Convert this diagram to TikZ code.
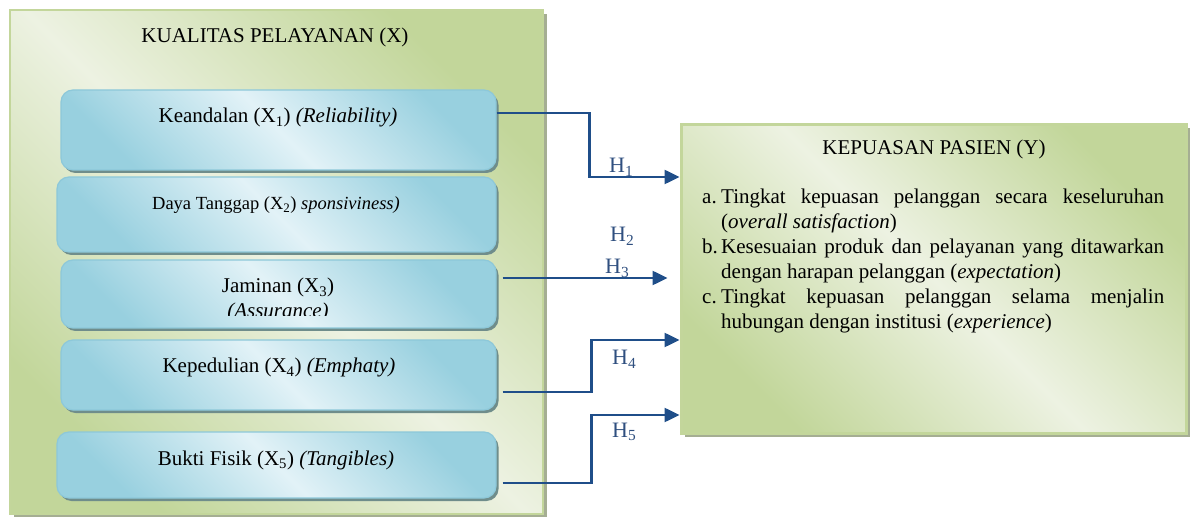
\documentclass[tikz,border=0pt]{standalone}
\usepackage{fontspec}
\setmainfont{Liberation Serif}[ItalicFont={Liberation Serif Italic}, BoldFont={Liberation Serif Bold}]
\usetikzlibrary{arrows.meta,shadows}
\definecolor{grn}{HTML}{C2D69A}
\definecolor{grnl}{HTML}{EDF2E2}
\definecolor{grnline}{HTML}{C3D69B}
\definecolor{grnshadow}{HTML}{A5AE93}
\definecolor{blu}{HTML}{98D0DF}
\definecolor{blul}{HTML}{E2F2F7}
\definecolor{bluline}{HTML}{8DC8D9}
\definecolor{blushadow}{HTML}{6F8D8B}
\definecolor{arrc}{HTML}{1F4E89}
\definecolor{hlab}{HTML}{2F4F7F}
\begin{document}
\begin{tikzpicture}[x=1pt,y=-1pt,
  greenbox/.style={draw=grnline, line width=2pt, top color=grn, bottom color=grn, middle color=grnl, shading angle=-45,
    drop shadow={shadow xshift=3.5pt, shadow yshift=-3.5pt, fill=grnshadow, opacity=1}, inner sep=0pt},
  bluebox/.style={draw=bluline, line width=1.2pt, rounded corners=12pt, top color=blu, bottom color=blu, middle color=blul, shading angle=-45,
    drop shadow={shadow xshift=2.5pt, shadow yshift=-3pt, fill=blushadow, opacity=1}, inner sep=0pt},
  txt/.style={font=\fontsize{21}{25}\selectfont, inner sep=0pt, anchor=base},
  hl/.style={font=\fontsize{22}{26}\selectfont, text=hlab, inner sep=0pt, anchor=base west},
  arr/.style={draw=arrc, line width=2.5pt, -{Triangle[length=15pt,width=14pt]}}
]
\useasboundingbox (0,0) rectangle (1194,518);
% left container
\node[greenbox, minimum width=533pt, minimum height=503pt] (X) at (276.5,262) {};
\node[txt] (Xt) at (275,43) {KUALITAS PELAYANAN (X)};
% inner boxes
\node[bluebox, minimum width=435pt, minimum height=80pt] (b1) at (278.5,130) {};
\node[bluebox, minimum width=439pt, minimum height=75pt] (b2) at (276.5,214.5) {};
\node[bluebox, minimum width=435pt, minimum height=68pt] (b3) at (278.5,294) {};
\node[bluebox, minimum width=435pt, minimum height=70pt] (b4) at (278.5,375) {};
\node[bluebox, minimum width=439pt, minimum height=66pt] (b5) at (276.5,465) {};
\node[txt] (b1t) at (278,123) {Keandalan (X\textsubscript{1}) \textit{(Reliability)}};
\node[txt, font=\fontsize{18.5}{22}\selectfont] (b2t) at (276,210) {Daya Tanggap (X\textsubscript{2}) \textit{sponsiviness)}};
\node[txt] (b3t) at (278,293) {Jaminan (X\textsubscript{3})};
\begin{scope}
\clip (61,262) rectangle (496,315.5);
\node[txt] (b3u) at (278,318) {\textit{(Assurance)}};
\end{scope}
\node[txt] (b4t) at (279,373) {Kepedulian (X\textsubscript{4}) \textit{(Emphaty)}};
\node[txt] (b5t) at (276,465) {Bukti Fisik (X\textsubscript{5}) \textit{(Tangibles)}};
% right box
\node[greenbox, line width=3pt, minimum width=505pt, minimum height=308pt,
  drop shadow={shadow xshift=4pt, shadow yshift=-4pt, fill=grnshadow, opacity=1}] (Y) at (933.5,279) {};
\node[txt] (Yt) at (934,155) {KEPUASAN PASIEN (Y)};
\node[inner sep=0pt, anchor=north west, text width=462pt, align=justify,
  font=\fontsize{21}{25}\selectfont] (Yl) at (702,188.5) {%
  \hbadness=10000\parindent=0pt
  \hangindent=19pt\hangafter=1\makebox[19pt][l]{a.}Tingkat kepuasan pelanggan secara keseluruhan\linebreak
  (\textit{overall satisfaction})\par
  \hangindent=19pt\hangafter=1\makebox[19pt][l]{b.}Kesesuaian produk dan pelayanan yang ditawarkan\linebreak
  dengan harapan pelanggan (\textit{expectation})\par
  \hangindent=19pt\hangafter=1\makebox[19pt][l]{c.}Tingkat kepuasan pelanggan selama menjalin\linebreak
  hubungan dengan institusi (\textit{experience})\par};
% connectors
\draw[arr] ([yshift=17pt]b1.east) -- ++(93,0) |- ([yshift=102pt]Y.west);
\draw[arr] ([xshift=6pt,yshift=16pt]b3.east) -- ([xshift=-12pt,yshift=1pt]Y.west);
\draw[arr] ([xshift=6pt,yshift=-17pt]b4.east) -- ++(89,0) |- ([yshift=-61pt]Y.west);
\draw[arr] ([xshift=6pt,yshift=-18pt]b5.east) -- ++(89,0) |- ([yshift=-136pt]Y.west);
% labels
\node[hl] (h1) at (609,173) {H\textsubscript{1}};
\node[hl] (h2) at (610,242) {H\textsubscript{2}};
\node[hl] (h3) at (605,274) {H\textsubscript{3}};
\node[hl] (h4) at (612,365) {H\textsubscript{4}};
\node[hl] (h5) at (612,437) {H\textsubscript{5}};
\end{tikzpicture}
\end{document}
